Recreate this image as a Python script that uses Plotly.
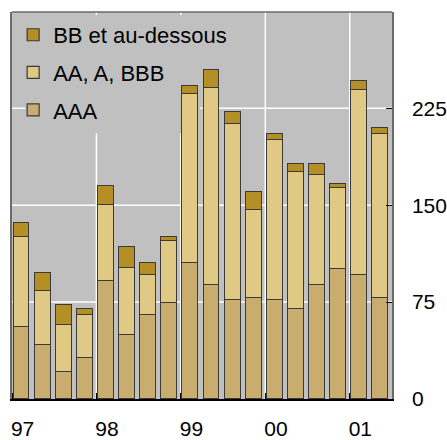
import plotly.graph_objects as go

periods = ["97T1","97T2","97T3","97T4","98T1","98T2","98T3","98T4",
           "99T1","99T2","99T3","99T4","00T1","00T2","00T3","00T4","01T1","01T2"]
aaa = [56, 42, 21, 32, 91, 49.5, 65, 74, 105, 88, 77, 78.5, 77, 69.5, 88, 100.5, 96, 78.5]
aa_a_bbb = [69, 41.5, 36, 33, 59, 52, 31, 48, 131, 152.5, 136, 68, 123.5, 106, 85, 63, 143, 126.5]
bb_below = [11, 14, 16, 4.5, 15, 16, 9, 3, 6.5, 14, 9, 14, 4.5, 6.5, 9, 3, 7, 5]
year_labels = ["97", "98", "99", "00", "01"]
y_ticks = [0, 75, 150, 225]
year_bounds = [0, 4, 8, 12, 16]

xpos = [i + 0.45 for i in range(len(periods))]
year_tick_pos = [4 * k + 0.5 for k in range(len(year_labels))]

FONT = "Liberation Sans, Arial, sans-serif"
LINE = dict(color="#3a3a3a", width=1.2)

fig = go.Figure()
for name, vals, col, grp, rank in [
    ("AAA", aaa, "#c9ad6f", "g3", 3),
    ("AA, A, BBB", aa_a_bbb, "#e0c985", "g2", 2),
    ("BB et au-dessous", bb_below, "#b38f26", "g1", 1),
]:
    fig.add_trace(go.Bar(x=xpos, y=vals, name=name, width=0.75, legendgroup=grp,
                         legendrank=rank,
                         marker=dict(color=col, line=LINE), customdata=periods,
                         hovertemplate="%{customdata}: %{y}<extra>" + name + "</extra>"))

# grid lines as shapes (below traces), then a legend backdrop covering them
shapes = []
for v in y_ticks[1:]:
    shapes.append(dict(type="line", xref="paper", yref="y", x0=0, x1=1, y0=v, y1=v,
                       line=dict(color="white", width=1.5), layer="below"))
for v in year_bounds[1:]:
    shapes.append(dict(type="line", xref="x", yref="paper", x0=v, x1=v, y0=0, y1=1,
                       line=dict(color="white", width=1.5), layer="below"))
shapes.append(dict(type="rect", xref="paper", yref="paper", x0=0.034, x1=0.495, y0=0.687, y1=0.992,
                   fillcolor="#c0c0c0", line=dict(width=0), layer="below"))
shapes.append(dict(type="line", xref="paper", yref="paper", x0=0, x1=1, y0=1, y1=1,
                   line=dict(color="#6a6a6a", width=1.5), layer="above"))

fig.update_layout(
    width=447, height=440,
    margin=dict(l=12, r=55, t=12, b=41, autoexpand=False),
    paper_bgcolor="white", plot_bgcolor="#c0c0c0",
    barmode="stack", bargap=0,
    font=dict(family=FONT, size=21, color="black"),
    showlegend=True,
    legend=dict(x=0.003, y=0.995, xanchor="left", yanchor="top",
                bgcolor="rgba(0,0,0,0)", font=dict(size=22),
                traceorder="grouped", tracegroupgap=6),
    xaxis=dict(range=[0, 18], tickmode="array", tickvals=year_tick_pos, ticktext=year_labels,
               ticks="", showgrid=False, zeroline=False,
               showline=True, linecolor="black", linewidth=1.5,
               ticklabelstandoff=10,
               minor=dict(tickmode="array", tickvals=year_bounds, ticks="inside",
                          ticklen=6, tickcolor="black", tickwidth=1, showgrid=False)),
    yaxis=dict(side="right", range=[0, 299.5], tickvals=y_ticks,
               ticks="inside", ticklen=6, tickcolor="black",
               showgrid=False, zeroline=False,
               showline=True, linecolor="#6a6a6a", linewidth=1.5, mirror=True,
               ticklabelstandoff=14),
    shapes=shapes,
)

fig.write_html("out.html", config={"displayModeBar": False},
               post_script="document.body.style.margin='0';document.body.style.overflow='hidden';")
